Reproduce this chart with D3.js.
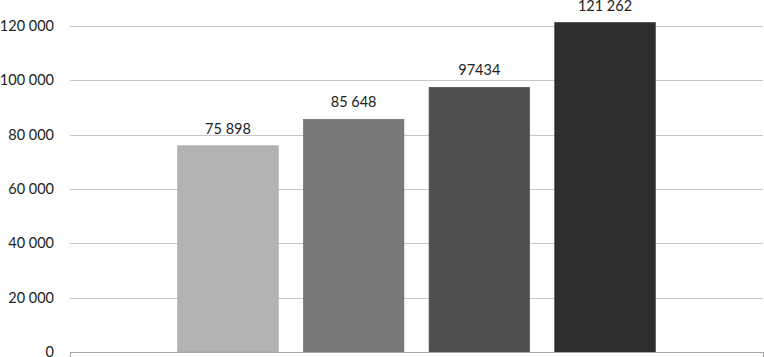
<!DOCTYPE html>
<html><head><meta charset="utf-8">
<script src="https://cdn.jsdelivr.net/npm/d3@7/dist/d3.min.js"></script>
<style>html,body{margin:0;padding:0;background:#fff;}svg{display:block;}</style>
</head><body>
<svg id="chart" width="764" height="357"></svg>
<script>
const series = ["S1", "S2", "S3", "S4"];
const values = [75898, 85648, 97434, 121262];
const valueLabels = ["75 898", "85 648", "97434", "121 262"];
const colors = ["#b3b3b3", "#787878", "#505050", "#2e2e2e"];
const yTicks = [0, 20000, 40000, 60000, 80000, 100000, 120000];
const yTickLabels = ["0", "20 000", "40 000", "60 000", "80 000", "100 000", "120 000"];

const svg = d3.select("#chart");
const left = 70, right = 763, base = 352;
const y = d3.scaleLinear().domain([0, 120000]).range([base, 26]);
const x = d3.scaleBand().domain(series).range([left, right]).paddingInner(0.2).paddingOuter(0.857);
const font = "Lato, 'Open Sans', sans-serif";

// gridlines
svg.append("g").selectAll("line").data(yTicks.filter(d => d > 0)).join("line")
  .attr("x1", left).attr("x2", right)
  .attr("y1", d => Math.round(y(d)) + 0.5).attr("y2", d => Math.round(y(d)) + 0.5)
  .attr("stroke", "#c6c6c6").attr("stroke-width", 1);

// y labels
svg.append("g").selectAll("text").data(yTicks).join("text")
  .attr("x", 54).attr("y", d => y(d)).attr("dy", "0.35em")
  .attr("text-anchor", "end").attr("font-family", font).attr("font-size", 14.5)
  .attr("fill", "#222").text((d, i) => yTickLabels[i]);

// bars
svg.append("g").selectAll("rect").data(values).join("rect")
  .attr("x", (d, i) => x(series[i])).attr("width", x.bandwidth())
  .attr("y", d => y(d)).attr("height", d => base - y(d))
  .attr("fill", (d, i) => colors[i])
  .attr("stroke", (d, i) => d3.color(colors[i]).darker(0.3)).attr("stroke-width", 0.6);

// value labels
svg.append("g").selectAll("text").data(values).join("text")
  .attr("x", (d, i) => x(series[i]) + x.bandwidth() / 2).attr("y", d => y(d) - 12)
  .attr("text-anchor", "middle").attr("font-family", font).attr("font-size", 14.5)
  .attr("fill", "#222").text((d, i) => valueLabels[i]);

// x axis
const ax = svg.append("g").attr("stroke", "#a8a8a8").attr("stroke-width", 1);
ax.append("line").attr("x1", left).attr("x2", right + 0.5).attr("y1", base + 0.5).attr("y2", base + 0.5);
[left, right].forEach(px => ax.append("line").attr("x1", px + 0.5).attr("x2", px + 0.5).attr("y1", base).attr("y2", 357));
</script>
</body></html>
